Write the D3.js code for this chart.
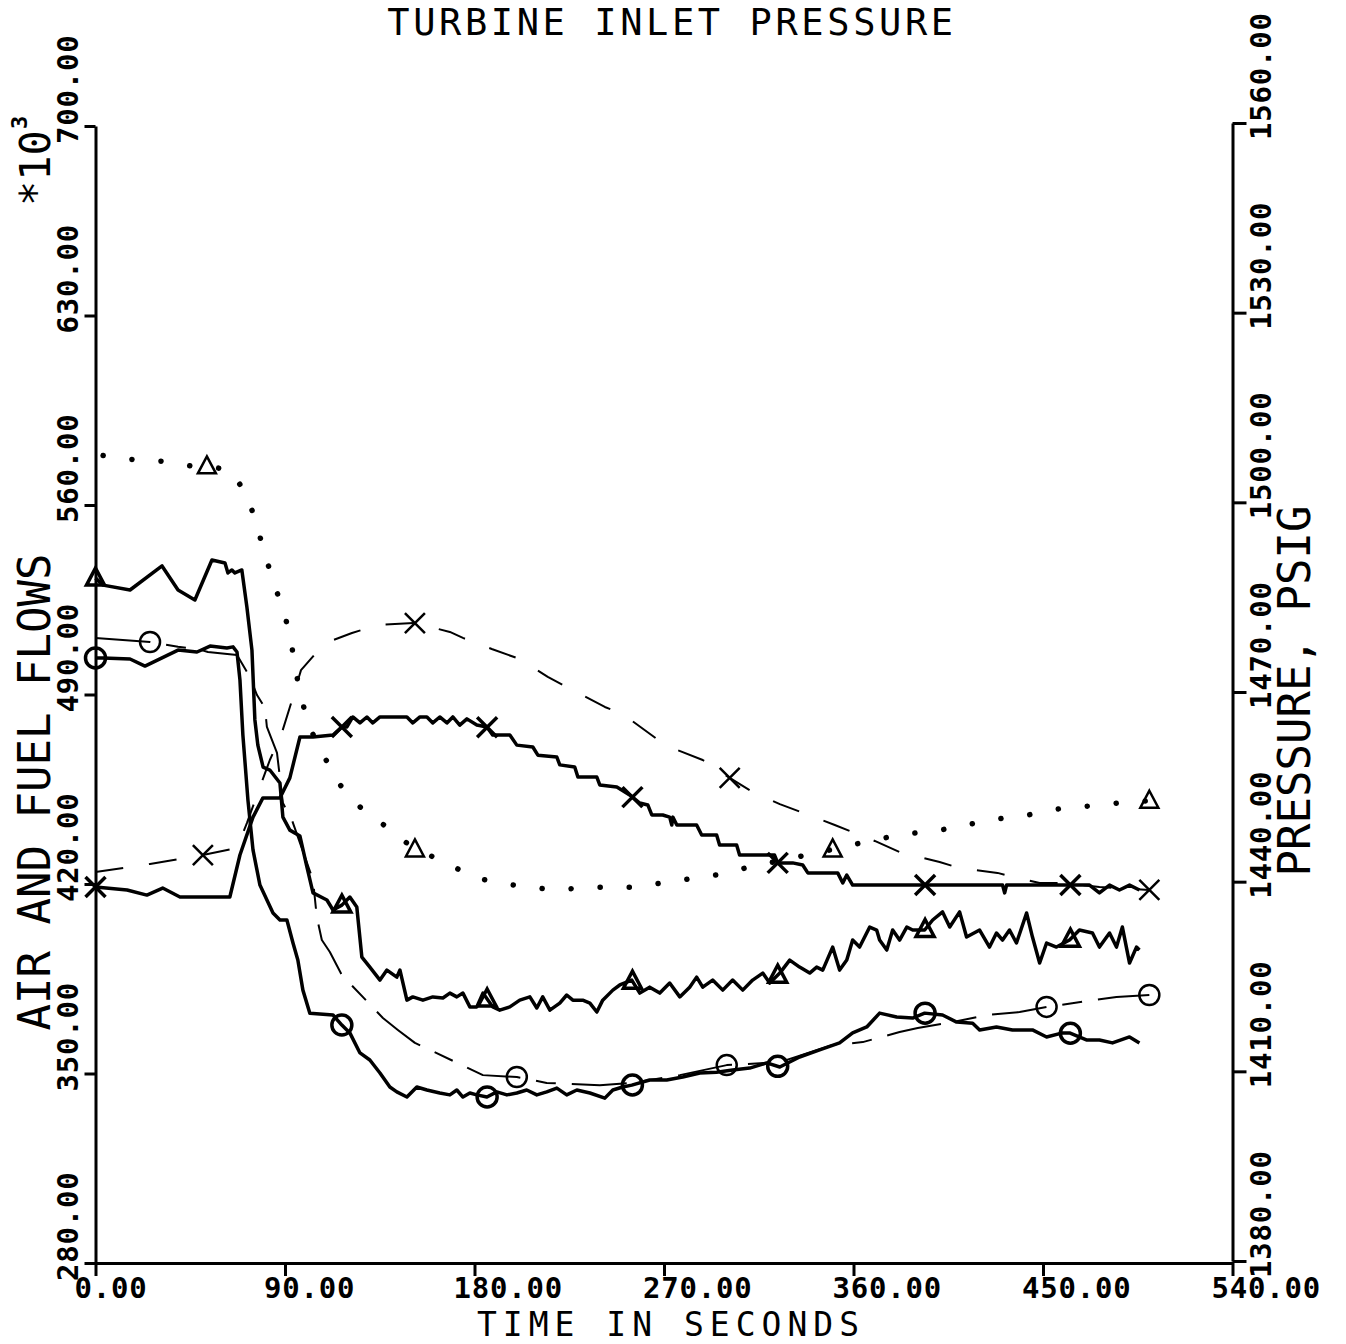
<!DOCTYPE html>
<html lang="en">
<head>
<meta charset="utf-8">
<title>Turbine Inlet Pressure</title>
<script src="https://cdnjs.cloudflare.com/ajax/libs/d3/7.8.5/d3.min.js"></script>
<style>
  body { margin: 0; background: #fff; }
  svg text { font-family: "DejaVu Sans Mono", monospace; fill: #000; }
  .axis path, .axis line { stroke: #000; stroke-width: 3; fill: none; }
</style>
</head>
<body>
<svg width="1346" height="1344"></svg>
<script>
// tick values
var timeTicks = [0, 90, 180, 270, 360, 450, 540];
var flowTicks = [280, 350, 420, 490, 560, 630, 700];
var pressureTicks = [1380, 1410, 1440, 1470, 1500, 1530, 1560];

// solid line, triangles (flow, *10^3)
var triSolid = [[0,533.0],[3.6,530.4],[16.4,528.6],[31.6,537.5],[39.2,528.6],[47.2,524.9],[55.3,539.7],[61.5,538.6],[62.9,534.9],[64.8,536.0],[66.2,534.9],[69.5,536.0],[71.9,522.3],[74.3,506.4],[75.7,480.6],[77.1,471.3],[79.6,463.2],[82.8,462.1],[87.6,457.3],[89.0,444.7],[92.3,439.9],[97.1,437.7],[100.4,426.3],[103.3,416.7],[109.9,414.1],[112.8,410.4],[117.0,412.2],[120.8,415.2],[124.1,411.5],[126.5,393.0],[130.3,389.3],[135.1,384.5],[138.4,388.2],[143.1,385.6],[144.6,388.2],[147.9,377.1],[150.7,378.3],[155.5,377.1],[160.2,378.3],[165.0,377.9],[168.3,379.7],[171.6,378.3],[174.5,379.7],[177.8,374.6],[181.1,374.6],[184.0,379.7],[188.7,374.6],[192.0,373.4],[196.8,374.6],[201.5,377.1],[206.3,378.3],[209.6,374.2],[212.4,378.3],[215.8,373.4],[220.5,376.0],[223.8,379.0],[226.7,377.1],[231.4,377.1],[234.8,376.0],[238.1,372.7],[240.9,377.1],[245.7,380.8],[249.0,382.7],[254.7,384.5],[258.5,379.7],[263.2,381.9],[268.0,379.7],[272.7,383.4],[277.5,378.3],[282.2,381.9],[285.5,385.6],[288.4,381.9],[293.1,384.5],[297.9,380.8],[302.6,384.5],[307.4,380.8],[312.1,384.5],[316.9,387.1],[320.2,383.4],[325.0,387.1],[329.7,391.9],[334.4,389.3],[339.2,387.1],[342.5,389.3],[345.4,388.2],[350.1,396.7],[353.4,388.2],[356.8,391.9],[359.6,399.3],[362.9,396.7],[367.7,404.1],[371.0,403.0],[372.4,399.3],[375.8,395.6],[378.6,403.0],[381.9,399.3],[385.3,404.1],[388.1,403.0],[393.8,403.0],[397.6,406.7],[402.3,409.7],[405.7,404.1],[410.4,409.7],[413.7,400.4],[419.9,403.0],[424.6,396.7],[427.9,401.9],[430.8,399.3],[434.1,403.0],[437.4,398.2],[442.2,409.3],[445.0,400.4],[448.4,390.8],[451.7,398.2],[456.4,396.7],[462.6,399.3],[467.3,403.0],[473.5,401.9],[476.8,396.7],[481.6,401.9],[484.9,396.7],[487.7,404.1],[491.1,390.8],[494.4,396.7],[495.8,395.6]];

// solid line, crosses
var xSolid = [[0,418.9],[15.0,417.8],[24.4,415.9],[31.9,418.5],[40.1,415.2],[63.8,415.2],[68.6,430.7],[74.8,444.7],[79.5,451.8],[87.6,451.8],[92.3,459.2],[97.1,474.3],[103.3,474.3],[112.8,475.0],[117.0,478.0],[119.4,478.0],[122.2,481.7],[125.6,479.5],[128.9,481.7],[131.7,479.5],[135.1,481.7],[138.4,481.7],[147.9,481.7],[150.7,479.5],[154.1,481.7],[157.4,481.7],[160.2,479.5],[163.5,481.7],[166.9,479.5],[169.7,481.7],[173.0,478.7],[176.4,481.0],[181.1,478.7],[185.9,478.0],[188.7,475.0],[196.8,475.0],[200.1,471.3],[207.7,470.6],[210.1,467.6],[219.1,466.9],[220.5,464.0],[227.6,463.2],[229.1,459.5],[238.1,459.5],[239.5,456.6],[247.6,455.8],[253.7,452.9],[258.5,449.9],[262.3,449.2],[264.2,445.5],[269.4,445.5],[272.7,444.7],[273.7,441.8],[274.2,444.7],[276.1,441.8],[285.5,441.8],[287.9,438.1],[295.0,438.1],[296.4,434.4],[304.5,434.4],[305.9,430.7],[322.5,430.7],[324.0,427.8],[331.1,427.8],[335.9,427.0],[338.3,424.1],[352.5,424.1],[354.9,420.4],[356.8,423.3],[359.6,419.6],[381.9,419.6],[430.8,419.6],[431.8,416.7],[432.7,419.6],[462.6,419.6],[472.1,419.6],[476.8,416.7],[481.6,419.6],[486.3,417.8],[491.1,419.6],[495.8,417.8]];

// solid line, circles
var circSolid = [[0,503.5],[3.6,503.5],[16.4,503.1],[23.5,500.5],[39.2,506.4],[48.2,505.7],[54.4,507.9],[62.4,507.2],[65.3,507.6],[67.2,505.7],[68.6,495.4],[70.0,475.0],[72.4,451.0],[74.8,432.6],[78.1,419.6],[84.3,409.3],[87.6,406.7],[90.9,406.7],[93.8,398.2],[96.1,391.9],[98.5,380.8],[101.8,372.3],[112.8,371.6],[117.0,367.9],[120.8,365.0],[125.6,357.6],[130.3,355.0],[135.1,350.2],[139.8,345.0],[143.1,343.2],[147.9,341.3],[152.6,345.0],[157.4,343.9],[163.5,342.8],[168.3,342.1],[171.6,343.9],[174.5,341.3],[177.8,342.8],[181.1,342.1],[185.9,341.3],[190.6,343.2],[195.4,342.1],[200.1,342.8],[204.8,343.9],[209.6,342.1],[214.3,343.2],[219.1,344.6],[223.8,342.1],[228.6,343.9],[234.8,342.8],[241.9,340.9],[245.7,343.9],[250.4,345.0],[254.7,345.7],[263.2,347.6],[271.3,347.6],[278.9,348.7],[287.0,350.2],[295.0,350.5],[302.6,351.3],[310.7,352.0],[318.8,353.9],[325.0,352.4],[334.4,356.1],[343.9,358.7],[353.4,361.3],[359.6,365.0],[366.3,367.2],[372.4,372.3],[380.5,370.9],[388.1,370.5],[393.8,372.3],[402.3,371.6],[409.0,369.0],[416.6,368.6],[419.9,366.1],[427.9,367.2],[435.5,366.1],[445.0,366.1],[451.7,363.5],[459.3,365.0],[462.6,365.0],[470.6,362.4],[476.8,362.4],[483.0,361.3],[491.1,363.5],[495.8,361.3]];

// thin long-short dash, circles
var circThin = [[0,510.9],[25.9,509.4],[39.2,507.6],[48.7,506.8],[53.4,505.7],[67.2,504.6],[73.3,496.5],[76.7,489.8],[80.5,485.0],[81.4,478.0],[86.2,468.4],[89.0,449.9],[93.3,443.6],[103.3,421.5],[105.1,407.8],[107.5,399.3],[111.3,394.9],[117.0,386.4],[136.5,370.5],[143.6,366.1],[151.7,361.3],[158.8,358.7],[184.0,349.4],[200.1,348.7],[214.3,346.5],[239.5,345.7],[254.7,346.5],[277.5,349.4],[299.8,353.1],[325.0,354.2],[350.1,360.5],[364.4,361.6],[381.9,365.3],[390.5,366.8],[407.1,369.0],[423.2,371.6],[438.9,372.7],[451.7,374.6],[484.9,378.3],[500.5,379.0]];

// dashed, crosses
var xDashed = [[0,424.4],[25.9,427.4],[51.0,430.7],[67.2,433.3],[71.9,442.5],[78.1,455.8],[82.8,465.8],[88.5,475.8],[93.8,489.1],[97.6,499.0],[105.2,505.7],[112.8,510.1],[121.8,512.7],[134.1,515.7],[151.7,516.4],[168.3,513.1],[174.5,510.9],[188.2,506.8],[201.5,503.1],[214.8,496.5],[223.8,492.8],[241.9,485.4],[250.4,482.8],[268.0,472.8],[272.7,470.6],[288.4,465.8],[301.2,459.2],[312.1,454.0],[325.0,449.5],[340.2,445.1],[351.1,441.8],[370.1,435.9],[381.9,431.8],[400.9,428.1],[410.4,425.9],[428.4,424.1],[437.9,422.2],[448.4,420.4],[459.3,420.4],[476.8,418.9],[500.5,417.8]];

// dotted, triangles (pressure, psig)
var triDotted = [[3.6,1507.4],[16.4,1506.8],[31.6,1506.5],[46.3,1505.7],[52.9,1505.7],[64.3,1505.1],[72.4,1500.8],[76.7,1496.2],[81.4,1490.7],[86.2,1485.8],[90.0,1482.0],[92.8,1478.3],[94.7,1473.9],[97.6,1469.4],[100.9,1464.9],[108.9,1459.6],[117.0,1454.9],[126.0,1451.7],[138.4,1448.6],[151.7,1445.1],[163.5,1443.5],[180.2,1440.6],[197.7,1439.5],[217.2,1438.7],[236.2,1439.1],[254.7,1439.1],[277.5,1440.2],[295.5,1441.1],[309.3,1442.2],[350.1,1445.1],[364.4,1446.2],[381.9,1447.4],[401.9,1448.2],[426.1,1449.8],[443.6,1450.6],[460.2,1451.7],[473.5,1452.0],[487.3,1452.5],[500.5,1452.8]];

// marker times
var solidMarkT = [0, 117, 186, 255, 324, 394, 463];
var circThinMarkT = [25.9, 200.1, 299.8, 451.7, 500.5];
var xDashedMarkT = [51, 151.7, 301.2, 500.5];
var triDottedMarkT = [52.9, 151.7, 350.1, 500.5];

var svg = d3.select("svg");
var x = d3.scaleLinear().domain([0, 540]).range([95.5, 1232.5]);
var y = d3.scaleLinear().domain([280, 700]).range([1263, 126]);
var yR = d3.scaleLinear().domain([1380, 1560]).range([1261, 123]);

// axes
svg.append("g").attr("class", "axis")
  .attr("transform", "translate(0,1263)")
  .call(d3.axisBottom(x).tickValues(timeTicks).tickSize(13).tickSizeOuter(0).tickFormat(""));
svg.append("g").attr("class", "axis")
  .attr("transform", "translate(95.5,0)")
  .call(d3.axisLeft(y).tickValues(flowTicks).tickSize(11).tickSizeOuter(0).tickFormat(""));
svg.append("g").attr("class", "axis")
  .attr("transform", "translate(1232.5,0)")
  .call(d3.axisRight(yR).tickValues(pressureTicks).tickSize(14).tickSizeOuter(0).tickFormat(""));

var fmt = d3.format(".2f");

svg.selectAll(".xlab").data(timeTicks).enter().append("text")
  .attr("x", function(d) { return x(d) - 21; })
  .attr("y", 1298)
  .style("font-size", "29px").style("font-weight", "bold").style("letter-spacing", "0.8px")
  .text(function(d) { return fmt(d); });

svg.selectAll(".ylab").data(flowTicks).enter().append("text")
  .attr("transform", function(d) { return "translate(78," + (y(d) + 18) + ") rotate(-90)"; })
  .style("font-size", "29px").style("font-weight", "bold").style("letter-spacing", "0.8px")
  .text(function(d) { return fmt(d); });

svg.selectAll(".rlab").data(pressureTicks).enter().append("text")
  .attr("transform", function(d) { return "translate(1271," + (yR(d) + 17) + ") rotate(-90)"; })
  .style("font-size", "29px").style("font-weight", "bold").style("letter-spacing", "0.8px")
  .text(function(d) { return fmt(d); });

// titles
svg.append("text").attr("x", 672).attr("y", 35)
  .attr("text-anchor", "middle").style("font-size", "37px").style("letter-spacing", "3.6px")
  .text("TURBINE INLET PRESSURE");
svg.append("text").attr("x", 671).attr("y", 1336)
  .attr("text-anchor", "middle").style("font-size", "33px").style("letter-spacing", "6px")
  .text("TIME IN SECONDS");
svg.append("text").attr("transform", "translate(50,792) rotate(-90)")
  .attr("text-anchor", "middle").style("font-size", "44px")
  .text("AIR AND FUEL FLOWS");
svg.append("text").attr("transform", "translate(1310,691) rotate(-90)")
  .attr("text-anchor", "middle").style("font-size", "44px")
  .text("PRESSURE, PSIG");
svg.append("text").attr("transform", "translate(50,206) rotate(-90)")
  .style("font-size", "42px").text("*10");
svg.append("text").attr("transform", "translate(27,129) rotate(-90)")
  .style("font-size", "22px").style("font-weight", "bold").text("3");

// lines
var lineL = d3.line().x(function(d) { return x(d[0]); }).y(function(d) { return y(d[1]); });
var lineR = d3.line().x(function(d) { return x(d[0]); }).y(function(d) { return yR(d[1]); });

function drawLine(data, gen, width, dash, cap) {
  svg.append("path").datum(data)
    .attr("d", gen)
    .attr("fill", "none")
    .attr("stroke", "#000")
    .attr("stroke-width", width)
    .attr("stroke-linejoin", "round")
    .attr("stroke-linecap", cap || "butt")
    .attr("stroke-dasharray", dash || null);
}

drawLine(xDashed, lineL, 2, "28,26");
drawLine(circThin, lineL, 2, "55,16,20,16");
drawLine(triDotted, lineR, 5.5, "0.1,29", "round");
drawLine(triSolid, lineL, 3.5);
drawLine(xSolid, lineL, 3.5);
drawLine(circSolid, lineL, 3.5);

function valueAt(data, t) {
  var i = d3.bisector(function(d) { return d[0]; }).left(data, t);
  if (i <= 0) return data[0][1];
  if (i >= data.length) return data[data.length - 1][1];
  var a = data[i - 1], b = data[i];
  return a[1] + (b[1] - a[1]) * (t - a[0]) / (b[0] - a[0]);
}

var shapes = {
  tri: "M0,-10L9,7L-9,7Z",
  cross: "M-10,-10L10,10M-10,10L10,-10",
  circ: "M10,0A10,10 0 1,1 -10,0A10,10 0 1,1 10,0Z"
};

function drawMarkers(data, times, yScale, shape, width) {
  svg.append("g").selectAll("path").data(times).enter().append("path")
    .attr("transform", function(t) { return "translate(" + x(t) + "," + yScale(valueAt(data, t)) + ")"; })
    .attr("d", shapes[shape])
    .attr("fill", "none")
    .attr("stroke", "#000")
    .attr("stroke-width", width);
}

drawMarkers(triSolid, solidMarkT, y, "tri", 3.5);
drawMarkers(xSolid, solidMarkT, y, "cross", 3.5);
drawMarkers(circSolid, solidMarkT, y, "circ", 3.5);
drawMarkers(circThin, circThinMarkT, y, "circ", 2.5);
drawMarkers(xDashed, xDashedMarkT, y, "cross", 2.5);
drawMarkers(triDotted, triDottedMarkT, yR, "tri", 2.5);
</script>
</body>
</html>
